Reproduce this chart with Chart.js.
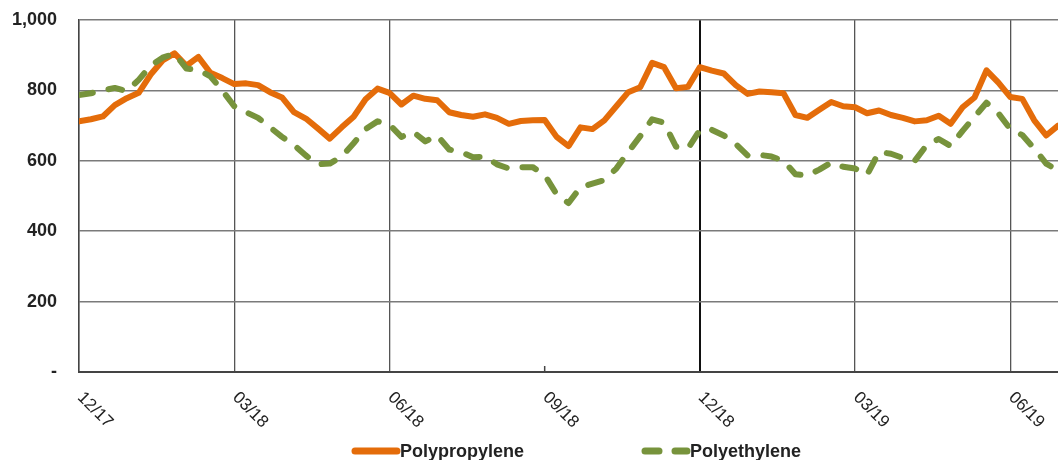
<!DOCTYPE html>
<html>
<head>
<meta charset="utf-8">
<script src="https://cdn.jsdelivr.net/npm/chart.js@4/dist/chart.umd.min.js"></script>
<style>
    html, body { margin: 0; padding: 0; background: #fff; overflow: hidden; }
    #wrap { position: relative; width: 1082px; height: 460px; }
</style>
</head>
<body>
<div id="wrap"><canvas id="chart01"></canvas></div>
<script>
// weekly prices, week 0 = 12/17
const polypropylene = [712, 718, 726, 758, 778, 793, 845, 885, 905, 870,
    895, 850, 835, 818, 820, 815, 795, 780, 738, 720,
    692, 663, 695, 725, 775, 805, 793, 760, 785, 776,
    772, 738, 730, 725, 732, 722, 705, 713, 715, 716,
    668, 642, 695, 690, 715, 755, 795, 809, 878, 866,
    806, 810, 866, 856, 848, 815, 790, 797, 795, 792,
    730, 722, 745, 767, 755, 752, 735, 743, 730, 722,
    712, 715, 728, 705, 752, 780, 857, 822, 781, 776,
    715, 672, 700, 710];
const polyethylene = [787, 792, 800, 807, 798, 830, 870, 893, 905, 862,
    858, 840, 800, 755, 738, 722, 695, 668, 645, 615,
    590, 592, 612, 650, 690, 712, 703, 668, 682, 655,
    672, 632, 625, 610, 612, 590, 578, 582, 582, 560,
    505, 480, 525, 535, 545, 578, 625, 670, 718, 708,
    640, 635, 688, 688, 672, 648, 615, 617, 612, 600,
    562, 558, 575, 595, 583, 578, 560, 625, 620, 608,
    600, 645, 662, 642, 685, 725, 765, 735, 690, 673,
    635, 592, 572, 570];
const tickWeeks = [0, 13, 26, 39, 52, 65, 78];
const tickLabels = ['12/17', '03/18', '06/18', '09/18', '12/18', '03/19', '06/19'];
const seriesNames = ['Polypropylene', 'Polyethylene'];

const ORANGE = '#E46C0A';
const GREEN = '#77933C';
const FONT = 'Arial, "Liberation Sans", sans-serif';

const toPoints = arr => arr.map((v, i) => ({ x: i, y: v }));

// draws rotated x labels, the short 09/18 tick and the legend
const extrasPlugin = {
    id: 'extras',
    afterDraw(chart) {
        const { ctx, chartArea } = chart;
        const xScale = chart.scales.x;
        ctx.save();
        // short tick where there is no grid line
        const px39 = xScale.getPixelForValue(39);
        ctx.strokeStyle = '#444';
        ctx.lineWidth = 1.5;
        ctx.beginPath();
        ctx.moveTo(px39, chartArea.bottom - 6);
        ctx.lineTo(px39, chartArea.bottom);
        ctx.stroke();

        ctx.fillStyle = '#222';
        ctx.font = `17px ${FONT}`;
        ctx.textAlign = 'left';
        ctx.textBaseline = 'middle';
        tickWeeks.forEach((w, i) => {
            const px = xScale.getPixelForValue(w);
            ctx.save();
            ctx.translate(px + 1, chartArea.bottom + 23);
            ctx.rotate(Math.PI / 4);
            ctx.fillText(tickLabels[i], 0, 0);
            ctx.restore();
        });

        // legend
        const legendX = [352, 642];
        const lineY = 451;
        ctx.font = `bold 18px ${FONT}`;
        ctx.textBaseline = 'alphabetic';
        chart.data.datasets.forEach((ds, i) => {
            ctx.save();
            ctx.strokeStyle = ds.borderColor;
            ctx.lineWidth = ds.borderWidth + 1;
            ctx.lineCap = 'round';
            ctx.setLineDash(ds.borderDash || []);
            ctx.beginPath();
            ctx.moveTo(legendX[i] + 3, lineY);
            ctx.lineTo(legendX[i] + 45, lineY);
            ctx.stroke();
            ctx.restore();
            ctx.fillStyle = '#222';
            ctx.fillText(ds.label, legendX[i] + 48, 457);
        });
        ctx.restore();
    },
};

const config = {
    type: 'line',
    data: {
        datasets: [
            {
                label: seriesNames[0],
                data: toPoints(polypropylene),
                borderColor: ORANGE,
                backgroundColor: ORANGE,
                borderWidth: 6,
                pointRadius: 0,
                tension: 0,
                borderJoinStyle: 'round',
                borderCapStyle: 'round',
                order: 1,
            },
            {
                label: seriesNames[1],
                data: toPoints(polyethylene),
                borderColor: GREEN,
                backgroundColor: GREEN,
                borderWidth: 6,
                borderDash: [14, 16],
                pointRadius: 0,
                tension: 0,
                borderJoinStyle: 'round',
                borderCapStyle: 'round',
                order: 0,
            },
        ],
    },
    options: {
        responsive: true,
        maintainAspectRatio: false,
        animation: false,
        events: [],
        layout: {
            padding: { top: 20, right: 0, left: 0, bottom: 0 },
        },
        plugins: {
            legend: { display: false },
            tooltip: { enabled: false },
        },
        scales: {
            x: {
                type: 'linear',
                min: 0,
                max: 84,
                afterBuildTicks(scale) {
                    scale.ticks = tickWeeks.map(v => ({ value: v }));
                },
                afterFit(scale) {
                    scale.height = 88;
                },
                ticks: { display: false },
                grid: {
                    drawTicks: false,
                    color(c) {
                        if (c.tick && c.tick.value === 39) return 'rgba(0,0,0,0)';
                        if (c.tick && c.tick.value === 52) return '#111';
                        return '#555';
                    },
                    lineWidth(c) {
                        return c.tick && c.tick.value === 52 ? 2 : 1.3;
                    },
                },
                border: { display: true, color: '#444', width: 2 },
            },
            y: {
                min: 0,
                max: 1000,
                afterFit(scale) {
                    scale.width = 79;
                    // tick padding is horizontal here, keep it out of the top gap
                    scale.paddingTop = 0;
                    scale.paddingBottom = 0;
                },
                ticks: {
                    stepSize: 200,
                    padding: 22,
                    color: '#222',
                    font: { family: FONT, size: 18, weight: 'bold' },
                    callback(value) {
                        return value === 0 ? '-' : value.toLocaleString('en-US');
                    },
                },
                grid: {
                    drawTicks: false,
                    color: '#7a7a7a',
                    lineWidth: 1.5,
                },
                border: { display: true, color: '#444', width: 1.5 },
            },
        },
    },
    plugins: [extrasPlugin],
};

const chart = new Chart(document.getElementById('chart01').getContext('2d'), config);
</script>
</body>
</html>
